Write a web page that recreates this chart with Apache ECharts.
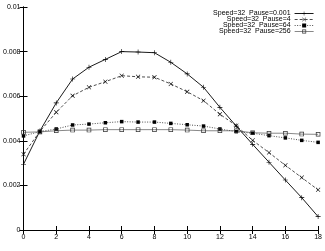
<!DOCTYPE html>
<html><head><meta charset="utf-8">
<script src="https://cdn.jsdelivr.net/npm/echarts@6/dist/echarts.min.js"></script>
<style>html,body{margin:0;padding:0;background:#fff}#c{width:325px;height:251px}</style>
</head><body><div id="c"></div>
<script>
const xValues = [0,1,2,3,4,5,6,7,8,9,10,11,12,13,14,15,16,17,18];
const seriesNames = ['Speed=32  Pause=0.001','Speed=32  Pause=4','Speed=32  Pause=64','Speed=32  Pause=256'];
const pause0001 = [0.00295,0.00444,0.0057,0.00677,0.0073,0.00765,0.0080,0.00798,0.00795,0.00752,0.0070,0.0064,0.0055,0.00466,0.00384,0.00304,0.00224,0.00145,0.0006];
const pause4 = [0.0034,0.00442,0.00528,0.00602,0.0064,0.00665,0.00692,0.00687,0.00685,0.00655,0.0062,0.0058,0.00519,0.00468,0.00402,0.00347,0.0029,0.00235,0.0018];
const pause64 = [0.00422,0.00441,0.00453,0.00471,0.00475,0.00481,0.00486,0.00484,0.00484,0.00478,0.00472,0.00466,0.00453,0.00441,0.00434,0.00423,0.00413,0.00402,0.00393];
const pause256 = [0.00438,0.0044,0.00445,0.00448,0.00448,0.0045,0.0045,0.0045,0.0045,0.0045,0.00448,0.00445,0.00445,0.00445,0.00436,0.00434,0.00434,0.0043,0.00429];
const xTicks = [0,2,4,6,8,10,12,14,16,18];
const yTicks = [0,0.002,0.004,0.006,0.008,0.01];
const yTickLabels = ['0','0.002','0.004','0.006','0.008','0.01'];

const plus = 'path://M4.4,0H5.6V4.4H10V5.6H5.6V10H4.4V5.6H0V4.4H4.4Z';
const cross = 'path://M0.9,0L5,4.1L9.1,0L10,0.9L5.9,5L10,9.1L9.1,10L5,5.9L0.9,10L0,9.1L4.1,5L0,0.9Z';
const hollowSquare = 'path://M0,0H10V10H0ZM1.6,1.6V8.4H8.4V1.6Z';
const font = 'Liberation Sans';
const pair = a => a.map((v,i)=>[xValues[i], v]);

const lineStyles = [
  {color:'#000',width:0.9,type:'solid'},
  {color:'#000',width:0.7,type:[3,2]},
  {color:'#000',width:0.7,type:[1,1.5]},
  {color:'#555',width:0.7,type:'solid'}
];

const chart = echarts.init(document.getElementById('c'), null, {renderer:'canvas'});
const axisCommon = {
  min:0, axisLine:{show:true,lineStyle:{color:'#000',width:1}},
  axisTick:{show:true,inside:true,length:4,lineStyle:{color:'#000'}},
  splitLine:{show:false}
};
const legendCommon = (i) => ({
  data:[seriesNames[i]], orient:'vertical', right:11, top:10+i*6,
  align:'right', itemWidth:19, itemHeight:5, itemGap:0, padding:0,
  lineStyle:{width:lineStyles[i].width},
  textStyle:{fontFamily:font,fontSize:7,color:'#000',padding:[0,-1,0,0]},
  selectedMode:false
});
chart.setOption({
  animation:false,
  grid:{left:20,right:5,top:7,bottom:21},
  legend:[0,1,2,3].map(legendCommon),
  xAxis:[
    Object.assign({}, axisCommon, {type:'value',max:18,interval:2,position:'bottom',
      axisLabel:{fontFamily:font,fontSize:7,color:'#000',margin:4,
        formatter:v=>xTicks.includes(v)?String(v):''}}),
    Object.assign({}, axisCommon, {type:'value',max:18,interval:2,position:'top',
      axisLabel:{show:false}})
  ],
  yAxis:[
    Object.assign({}, axisCommon, {type:'value',max:0.01,interval:0.002,position:'left',
      axisLabel:{fontFamily:font,fontSize:7,color:'#000',margin:3,
        formatter:v=>{const i=yTicks.findIndex(t=>Math.abs(t-v)<1e-9);return i>=0?yTickLabels[i]:'';}}}),
    Object.assign({}, axisCommon, {type:'value',max:0.01,interval:0.002,position:'right',
      axisLabel:{show:false}})
  ],
  series:[
    {name:seriesNames[0],type:'line',data:pair(pause0001),symbol:plus,symbolSize:5,
     lineStyle:lineStyles[0],itemStyle:{color:'#000'}},
    {name:seriesNames[1],type:'line',data:pair(pause4),symbol:cross,symbolSize:4.5,
     lineStyle:lineStyles[1],itemStyle:{color:'#000'}},
    {name:seriesNames[2],type:'line',data:pair(pause64),symbol:'rect',symbolSize:3.5,
     lineStyle:lineStyles[2],itemStyle:{color:'#000'}},
    {name:seriesNames[3],type:'line',data:pair(pause256),symbol:hollowSquare,symbolSize:4.5,
     lineStyle:lineStyles[3],itemStyle:{color:'#333'}}
  ]
});
</script></body></html>
